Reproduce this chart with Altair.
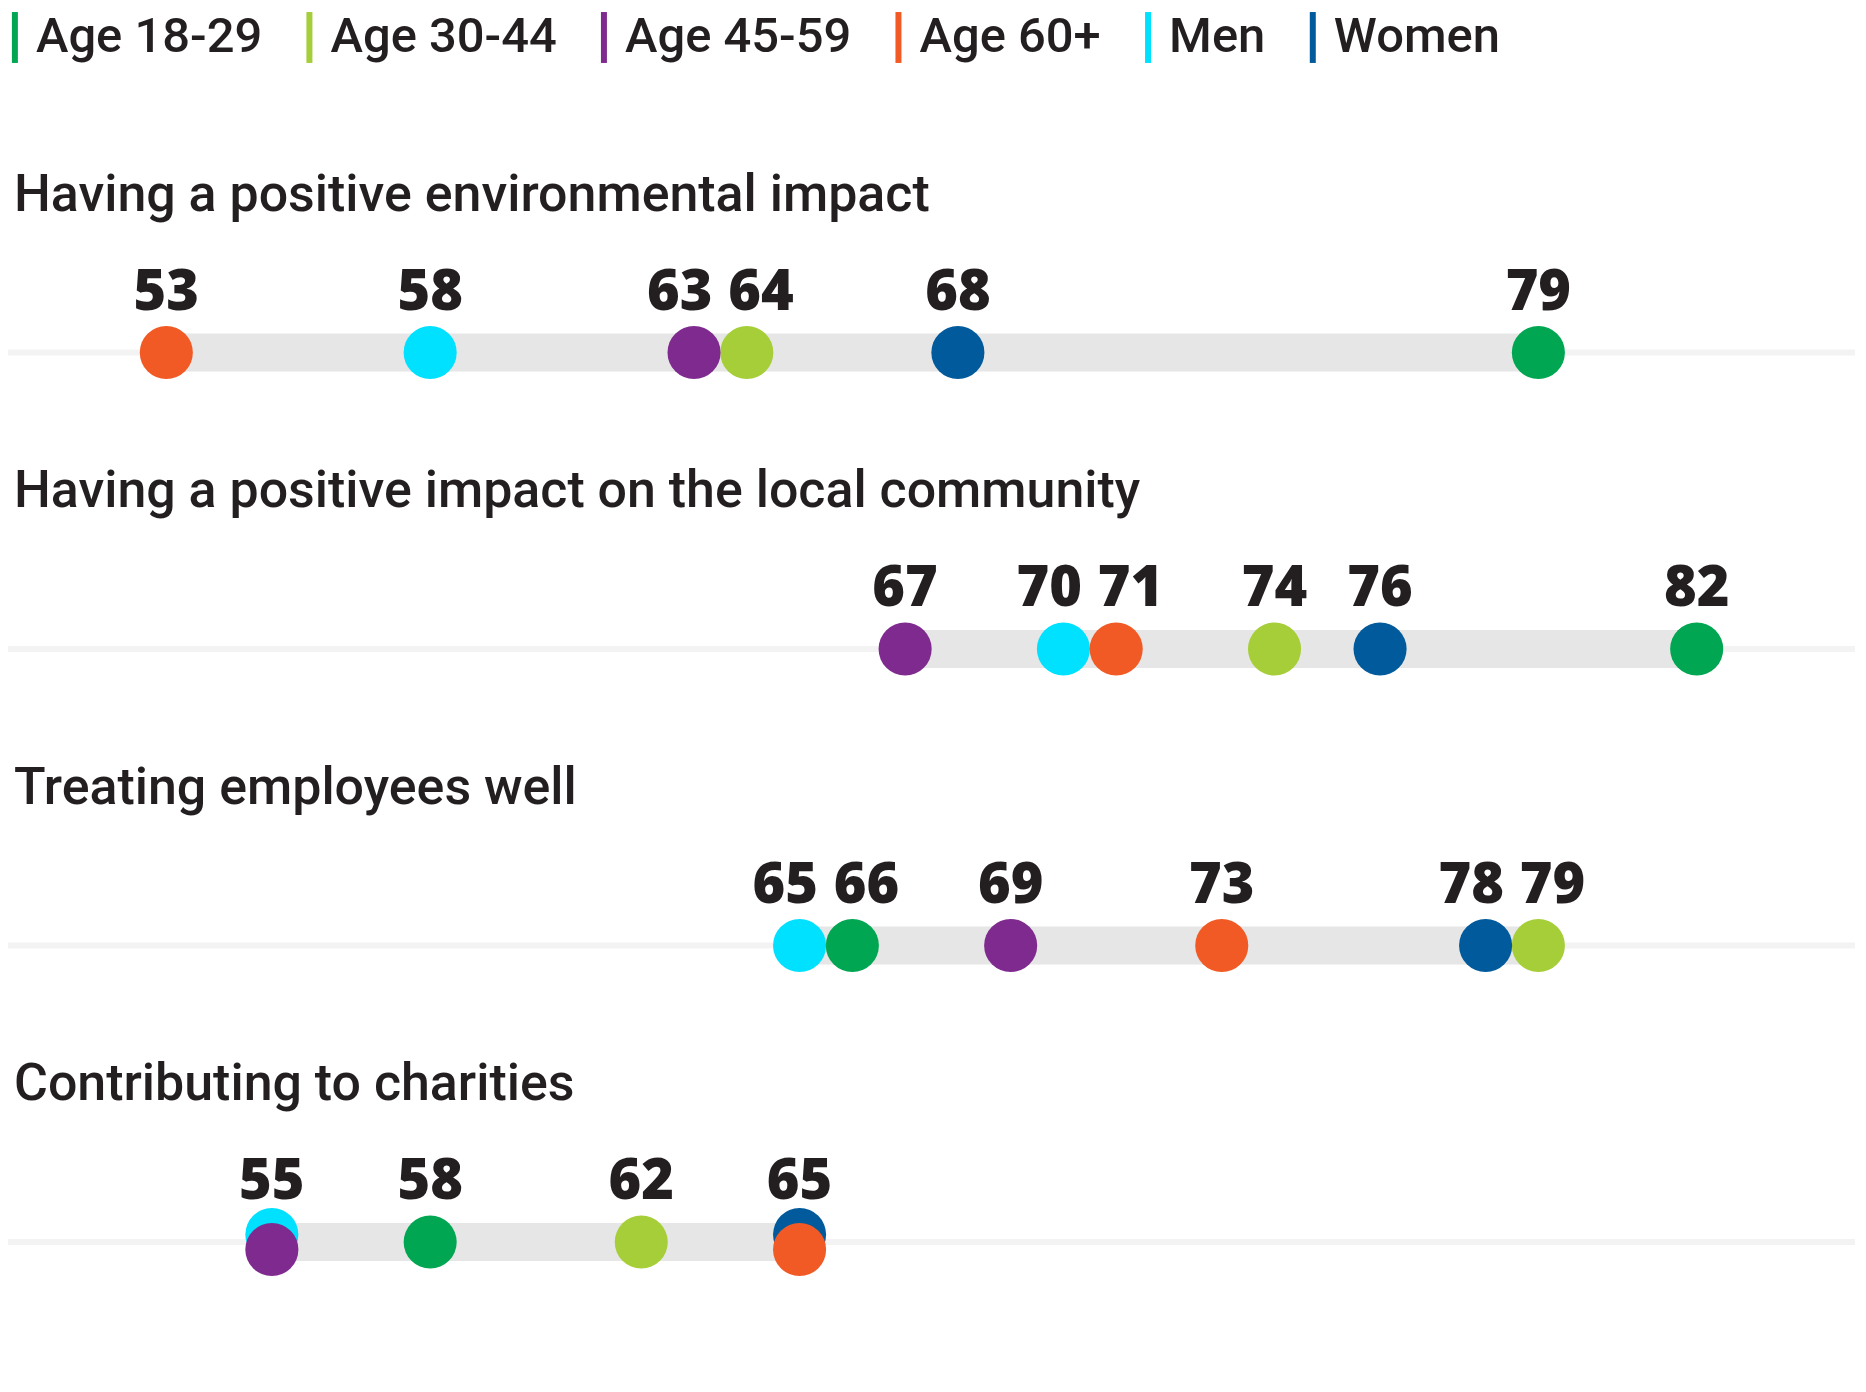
import altair as alt
import pandas as pd

# ---- data ----
groups = ["Age 18-29", "Age 30-44", "Age 45-59", "Age 60+", "Men", "Women"]
colors = ["#00a651", "#a6ce39", "#7f2a8e", "#f15a24", "#00e0ff", "#005a9c"]
draw_order = ["Men", "Age 30-44", "Women", "Age 18-29", "Age 45-59", "Age 60+"]

row_titles = [
    "Having a positive environmental impact",
    "Having a positive impact on the local community",
    "Treating employees well",
    "Contributing to charities",
]
environment = [79, 64, 63, 53, 58, 68]
community = [82, 74, 67, 71, 70, 76]
employees = [66, 79, 69, 73, 65, 78]
charities = [58, 62, 55, 65, 55, 65]
series = [environment, community, employees, charities]

TEXT = "#231f20"
W, H = 1850, 150
xscale = alt.Scale(domain=[50, 85], nice=False, zero=False)
yscale = alt.Scale(domain=[-50, 100], nice=False, zero=False)

color_enc = alt.Color(
    "group:N",
    scale=alt.Scale(domain=groups, range=colors),
    legend=alt.Legend(
        orient="none",
        legendX=-21,
        legendY=-240,
        offset=0,
        direction="horizontal",
        title=None,
        symbolType="M0.16,-10.2H2.56V10.2H0.16Z",
        symbolSize=25,
        symbolStrokeWidth=0,
        symbolOpacity=1,
        labelFont="Roboto",
        labelFontSize=49,
        labelFontWeight=500,
        labelColor=TEXT,
        labelOffset=0,
        columnPadding=19,
        labelLimit=0,
    ),
)

panels = []
for title, vals in zip(row_titles, series):
    recs = []
    seen = {}
    for rank, g in enumerate(draw_order):
        v = vals[groups.index(g)]
        seen.setdefault(v, []).append(g)
        recs.append({"group": g, "value": v, "rank": rank})
    for r in recs:
        members = seen[r["value"]]
        if len(members) > 1:
            r["dy"] = 7.5 if members.index(r["group"]) == 0 else -7.5
        else:
            r["dy"] = 0.0
    dots = pd.DataFrame(recs)

    uniq = sorted(set(vals))
    lab = []
    for v in uniq:
        shift = 0.0
        if v - 1 in uniq:
            shift += 0.27
        if v + 1 in uniq:
            shift -= 0.27
        lab.append({"value": v, "lx": v + shift, "y": 0, "txt": str(v)})
    labels = pd.DataFrame(lab)

    span = pd.DataFrame({"lo": [min(vals)], "hi": [max(vals)], "y": [0]})

    thin = alt.Chart(span).mark_rule(color="#f3f3f3", strokeWidth=6).encode(
        x=alt.value(0),
        x2=alt.value({"expr": "width"}),
        y=alt.Y("y:Q", scale=yscale, axis=None),
    )
    bar = alt.Chart(span).mark_rule(color="#e6e6e6", strokeWidth=38, strokeCap="butt").encode(
        x=alt.X("lo:Q", scale=xscale, axis=None),
        x2="hi:Q",
        y=alt.Y("y:Q", scale=yscale, axis=None),
    )
    pts = alt.Chart(dots).mark_circle(opacity=1).encode(
        x=alt.X("value:Q", scale=xscale, axis=None),
        y=alt.Y("dy:Q", scale=yscale, axis=None),
        size=alt.value(2827),
        color=color_enc,
        order=alt.Order("rank:Q"),
    )
    txt = alt.Chart(labels).mark_text(
        font="Open Sans", fontWeight=800, fontSize=56, dy=-43,
        baseline="alphabetic", align="center", color=TEXT,
    ).encode(
        x=alt.X("lx:Q", scale=xscale, axis=None),
        y=alt.Y("y:Q", scale=yscale, axis=None),
        text="txt:N",
    )
    panel = alt.layer(thin, bar, pts, txt).properties(
        width=W,
        height=H,
        title=alt.TitleParams(
            text=title, anchor="start", font="Roboto", fontSize=52,
            fontWeight=500, color=TEXT, offset=-10, baseline="alphabetic", dx=9,
        ),
    )
    panels.append(panel)

chart = alt.vconcat(*panels, spacing=63).properties(
    padding={"left": -21, "top": 4, "right": 0, "bottom": 0}
).configure_view(stroke=None)

chart.save("out.html", embed_options={"renderer": "svg", "actions": False})
